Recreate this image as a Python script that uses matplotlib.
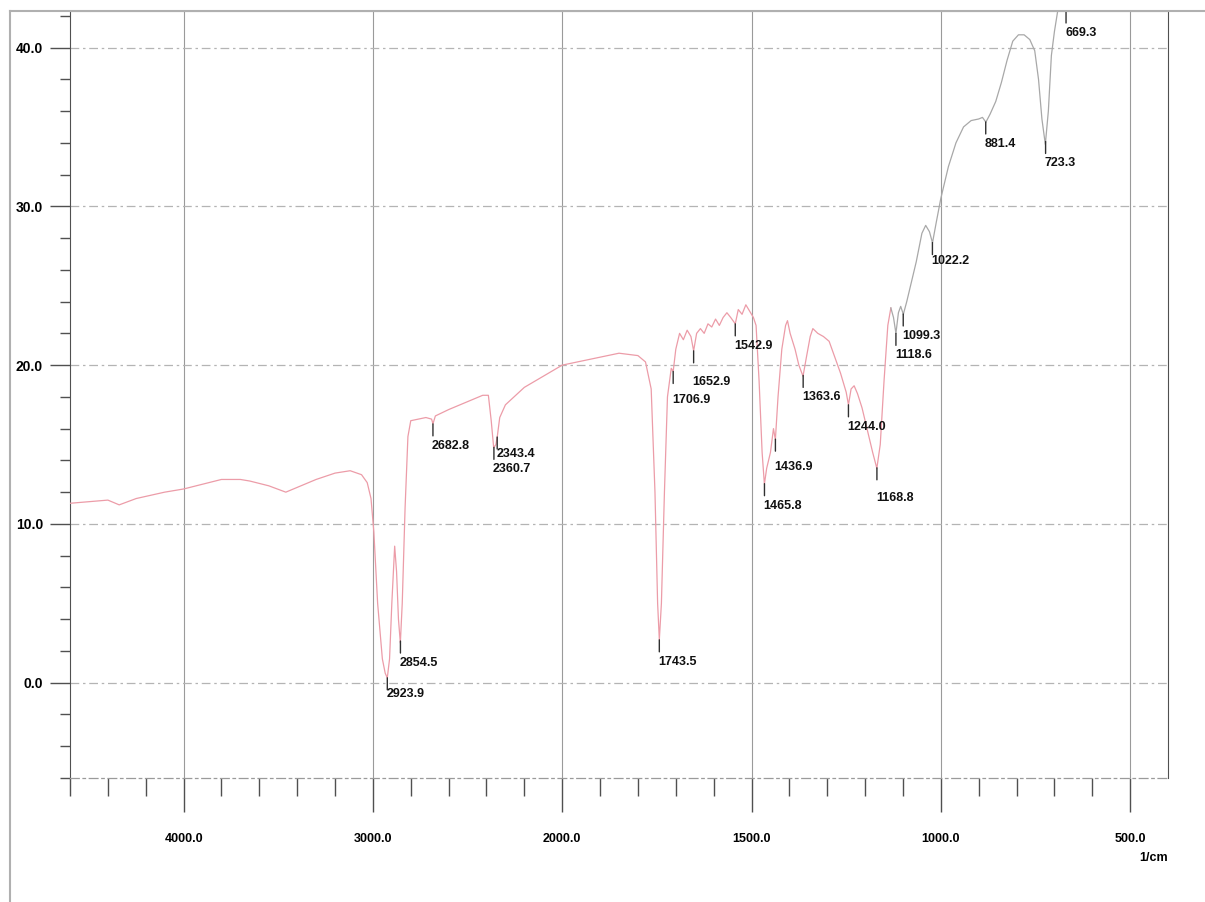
import numpy as np
import matplotlib
matplotlib.use("Agg")
import matplotlib.pyplot as plt
from matplotlib.lines import Line2D
from matplotlib.ticker import FixedLocator, FuncFormatter

# ---------------- data ----------------
wavenumber = [4600, 4500, 4400, 4340, 4250, 4100, 4000, 3900, 3800, 3700, 3650,
              3550, 3460, 3400, 3300, 3200, 3120, 3060, 3030, 3010, 2995, 2975,
              2950, 2935, 2924, 2912, 2900, 2885, 2875, 2865, 2855, 2845, 2830,
              2815, 2800, 2760, 2720, 2690, 2682.8, 2670, 2600, 2500, 2420, 2390,
              2375, 2362, 2350, 2343, 2330, 2300, 2200, 2100, 2000, 1900, 1850,
              1800, 1780, 1765, 1755, 1748, 1743.5, 1738, 1730, 1722, 1712,
              1706.9, 1700, 1690, 1680, 1670, 1660, 1652.9, 1645, 1635, 1625,
              1615, 1605, 1595, 1585, 1575, 1565, 1555, 1542.9, 1535, 1525, 1515,
              1505, 1495, 1488, 1480, 1472, 1466, 1460, 1450, 1442, 1437, 1430,
              1420, 1410, 1405, 1398, 1385, 1375, 1364, 1355, 1345, 1338, 1325,
              1310, 1295, 1280, 1265, 1250, 1244, 1237, 1229, 1220, 1208, 1195,
              1180, 1169, 1160, 1150, 1140, 1132]
transmittance = [11.3, 11.4, 11.5, 11.2, 11.6, 12.0, 12.2, 12.5, 12.8, 12.8, 12.7,
                 12.4, 12.0, 12.3, 12.8, 13.2, 13.35, 13.1, 12.6, 11.6, 9.5, 5.0,
                 1.5, 0.6, 0.3, 1.5, 5.0, 8.6, 7.0, 4.0, 2.5, 5.0, 11.0,
                 15.5, 16.5, 16.6, 16.7, 16.6, 16.3, 16.8, 17.2, 17.7, 18.1, 18.1,
                 16.5, 14.8, 15.0, 15.5, 16.7, 17.5, 18.6, 19.3, 20.0, 20.5, 20.75,
                 20.6, 20.2, 18.5, 12.0, 5.0, 2.7, 5.0, 12.0, 18.0, 19.8,
                 19.6, 21.0, 22.0, 21.6, 22.2, 21.8, 20.9, 22.0, 22.3, 22.0,
                 22.6, 22.4, 22.9, 22.5, 23.0, 23.3, 23.0, 22.6, 23.5, 23.2, 23.8,
                 23.4, 23.0, 22.5, 19.0, 14.5, 12.5, 13.5, 14.5, 16.0, 15.3, 18.0,
                 21.0, 22.5, 22.8, 22.0, 21.0, 20.0, 19.3, 20.5, 21.8, 22.3, 22.0,
                 21.8, 21.5, 20.5, 19.5, 18.3, 17.5, 18.5, 18.7, 18.2, 17.3, 16.0,
                 14.5, 13.5, 15.0, 19.0, 22.5, 23.6]

wavenumber_low = [1132, 1125, 1118.6, 1112, 1106, 1099, 1090, 1080, 1065, 1050,
                  1040, 1030, 1022, 1012, 1000, 980, 960, 940, 920, 900, 890, 881,
                  870, 855, 840, 825, 810, 795, 780, 765, 752, 742, 733, 724, 716,
                  708, 700, 690, 680, 669, 650]
transmittance_low = [23.6, 23.0, 22.0, 23.3, 23.7, 23.2, 24.0, 25.0, 26.5, 28.3,
                     28.8, 28.4, 27.7, 29.0, 30.5, 32.5, 34.0, 35.0, 35.4, 35.5, 35.6,
                     35.3, 35.8, 36.6, 37.8, 39.2, 40.4, 40.8, 40.8, 40.5, 39.8, 38.0,
                     35.5, 33.9, 36.0, 39.5, 41.0, 42.5, 44.0, 45.0, 46.0]

peak_positions = [2923.9, 2854.5, 2682.8, 2343.4, 2360.7, 1743.5, 1706.9, 1652.9,
                  1542.9, 1465.8, 1436.9, 1363.6, 1244.0, 1168.8, 1118.6, 1099.3,
                  1022.2, 881.4, 723.3, 669.3]
peak_labels = ["2923.9", "2854.5", "2682.8", "2343.4", "2360.7", "1743.5", "1706.9",
               "1652.9", "1542.9", "1465.8", "1436.9", "1363.6", "1244.0", "1168.8",
               "1118.6", "1099.3", "1022.2", "881.4", "723.3", "669.3"]

x_major = [4000, 3000, 2000, 1500, 1000, 500]
x_minor = [4600, 4400, 4200, 3800, 3600, 3400, 3200, 2800, 2600, 2400, 2200,
           1900, 1800, 1700, 1600, 1400, 1300, 1200, 1100, 900, 800, 700, 600]
y_major = [40, 30, 20, 10, 0]
y_minor = [42, 38, 36, 34, 32, 28, 26, 24, 22, 18, 16, 14, 12, 8, 6, 4, 2, -2, -4, -6]

# ---------------- style ----------------
plt.rcParams["font.family"] = ["Liberation Sans", "DejaVu Sans"]
W, H = 1205, 902
fig = plt.figure(figsize=(W / 100, H / 100), dpi=100)
ax = fig.add_axes([70 / W, 1 - 778 / H, (1168 - 70) / W, (778 - 11) / H])


def fwd(v):
    v = np.asarray(v, dtype=float)
    return np.where(v > 2000, 2000 + (v - 2000) / 2.0, v)


def inv(u):
    u = np.asarray(u, dtype=float)
    return np.where(u > 2000, 2000 + (u - 2000) * 2.0, u)


ax.set_xscale("function", functions=(fwd, inv))
ax.set_xlim(4600, 400)
ax.set_ylim(-6, 42.3)

pink = "#ec9ca8"
grey = "#a8a8a8"
ax.plot(wavenumber, transmittance, color=pink, lw=0.9, zorder=3)
ax.plot(wavenumber_low, transmittance_low, color=grey, lw=0.9, zorder=3)

# ticks
ax.xaxis.set_major_locator(FixedLocator(x_major))
ax.xaxis.set_minor_locator(FixedLocator(x_minor))
ax.yaxis.set_major_locator(FixedLocator(y_major))
ax.yaxis.set_minor_locator(FixedLocator(y_minor))
fmt = FuncFormatter(lambda v, p: f"{v:.1f}")
ax.xaxis.set_major_formatter(fmt)
ax.yaxis.set_major_formatter(fmt)
ax.xaxis.set_minor_formatter(FuncFormatter(lambda v, p: ""))

tick_col = "#505050"
ax.tick_params(axis="x", which="major", direction="out", length=24.5, width=1.0,
               color=tick_col, pad=15, labelsize=9)
ax.tick_params(axis="x", which="minor", direction="out", length=13, width=1.0,
               color=tick_col)
ax.tick_params(axis="y", which="major", direction="out", length=14.4, width=1.0,
               color=tick_col, pad=5, labelsize=10)
ax.tick_params(axis="y", which="minor", direction="out", length=7.2, width=1.0,
               color=tick_col)
for lab in ax.get_xticklabels() + ax.get_yticklabels():
    lab.set_fontweight("bold")

# grid
ax.grid(axis="x", which="major", color="#9a9a9a", lw=0.8, ls="-", zorder=1)
ax.grid(axis="y", which="major", color="#b4b4b4", lw=0.9, ls=(0, (7, 3, 2, 3)), zorder=1)

# spines
ax.spines["left"].set_color(tick_col)
ax.spines["right"].set_color(tick_col)
ax.spines["top"].set_color("#b0b0b0")
ax.spines["bottom"].set_color("#9a9a9a")
ax.spines["bottom"].set_linestyle((0, (7, 3, 2, 3)))
ax.spines["bottom"].set_linewidth(0.9)

# outer frame (cropped figure border)
fig.add_artist(Line2D([10 / W, 1], [1 - 11 / H, 1 - 11 / H], transform=fig.transFigure,
                      color="#b0b0b0", lw=1.5))
fig.add_artist(Line2D([10 / W, 10 / W], [0, 1 - 11 / H], transform=fig.transFigure,
                      color="#b0b0b0", lw=1.5))

# unit label
fig.text(1168 / W, 1 - 858 / H, "1/cm", ha="right", va="center", fontsize=9,
         fontweight="bold")

# peak markers
wn_all = np.array(wavenumber + wavenumber_low[1:], dtype=float)
tr_all = np.array(transmittance + transmittance_low[1:], dtype=float)
order = np.argsort(wn_all)
wn_s, tr_s = wn_all[order], tr_all[order]
ytop = ax.get_ylim()[1]
extra = {"2923.9": -6, "2343.4": -5, "1706.9": 7, "1652.9": 9, "1436.9": 6,
         "1168.8": 8, "1022.2": -4}
for pos, lab in zip(peak_positions, peak_labels):
    y0 = min(float(np.interp(pos, wn_s, tr_s)), ytop)
    ax.annotate("", xy=(pos, y0), xytext=(0, -12), textcoords="offset pixels",
                arrowprops=dict(arrowstyle="-", lw=1.0, color="#303030",
                                shrinkA=0, shrinkB=0), annotation_clip=False, zorder=4)
    ax.annotate(lab, xy=(pos, y0), xytext=(-1, -22 - extra.get(lab, 0)),
                textcoords="offset pixels", ha="left", va="center", fontsize=9,
                fontweight="bold", color="#111111", annotation_clip=False, zorder=5)

fig.savefig("out.png", dpi=100)
